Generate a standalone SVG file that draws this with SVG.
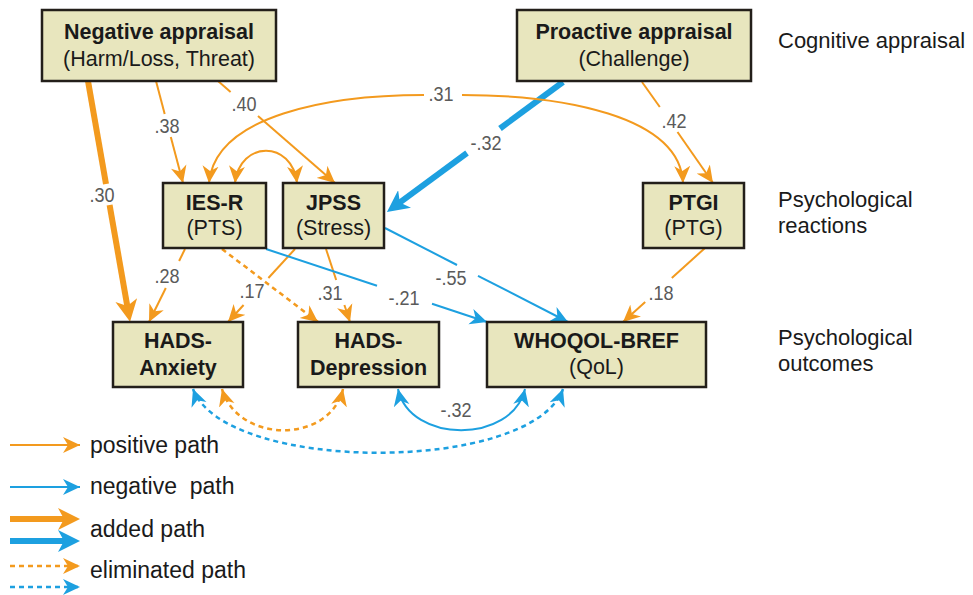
<svg xmlns="http://www.w3.org/2000/svg" width="973" height="595" viewBox="0 0 973 595">
<style>
  .box { fill: #E8E6BE; stroke: #231F1A; stroke-width: 2.5; }
  .nt { font-family: "Liberation Sans", Arial, sans-serif; font-size: 21.5px; fill: #1a1a1a; text-anchor: middle; }
  .b { font-weight: bold; }
  .side { font-family: "Liberation Sans", Arial, sans-serif; font-size: 22px; fill: #1a1a1a; }
  .leg { font-family: "Liberation Sans", Arial, sans-serif; font-size: 23px; fill: #1a1a1a; }
  .num { font-family: "Liberation Sans", Arial, sans-serif; font-size: 21px; fill: #5a5a5a; text-anchor: middle; }
  .o { fill: none; stroke: #F39A1E; stroke-width: 2; }
  .bl { fill: none; stroke: #1DA0E0; stroke-width: 2; }
  .thick { stroke-width: 6; }
  .dash { stroke-width: 2.5; stroke-dasharray: 5 4; }
</style>
<defs>
  <marker id="ao" markerUnits="userSpaceOnUse" viewBox="0 0 17 17" markerWidth="17" markerHeight="17" refX="17" refY="8.5" orient="auto-start-reverse">
    <path d="M0,0.5 L17,8.5 L0,16.5 L5,8.5 Z" fill="#F39A1E"/>
  </marker>
  <marker id="ab" markerUnits="userSpaceOnUse" viewBox="0 0 17 17" markerWidth="17" markerHeight="17" refX="17" refY="8.5" orient="auto-start-reverse">
    <path d="M0,0.5 L17,8.5 L0,16.5 L5,8.5 Z" fill="#1DA0E0"/>
  </marker>
  <marker id="aoT" markerUnits="userSpaceOnUse" viewBox="0 0 22 22" markerWidth="22" markerHeight="22" refX="13" refY="11" orient="auto">
    <path d="M0,0 L22,11 L0,22 L6,11 Z" fill="#F39A1E"/>
  </marker>
  <marker id="abT" markerUnits="userSpaceOnUse" viewBox="0 0 22 22" markerWidth="22" markerHeight="22" refX="13" refY="11" orient="auto">
    <path d="M0,0 L22,11 L0,22 L6,11 Z" fill="#1DA0E0"/>
  </marker>
</defs>
<rect width="973" height="595" fill="#ffffff"/>

<g id="connectors">
  <!-- Negative -> HADS-Anxiety (added, .30) -->
  <path class="o thick" d="M88,81 L106,184"/>
  <path class="o thick" d="M109.6,205 L128.5,313" marker-end="url(#aoT)"/>
  <!-- Negative -> IES-R (.38) -->
  <path class="o" d="M156,81 L164.7,114"/>
  <path class="o" d="M170.8,137 L183,183" marker-end="url(#ao)"/>
  <!-- Negative -> JPSS (.40) -->
  <path class="o" d="M218,81 L230.6,92"/>
  <path class="o" d="M258,116 L335,183" marker-end="url(#ao)"/>
  <!-- Proactive -> JPSS (added, -.32) -->
  <path class="bl thick" d="M563,82 L500,128.5"/>
  <path class="bl thick" d="M467,153 L394.2,206.7" marker-end="url(#abT)"/>
  <!-- Proactive -> PTGI (.42) -->
  <path class="o" d="M642,82 L659.8,107"/>
  <path class="o" d="M677.5,132 L713,183" marker-end="url(#ao)"/>
  <!-- IES-R <-> PTGI (.31) -->
  <path class="o" d="M209,183 C215,115 330,95 424,95" marker-start="url(#ao)"/>
  <path class="o" d="M462,95 C560,95 680,115 683,183" marker-end="url(#ao)"/>
  <!-- IES-R <-> JPSS -->
  <path class="o" d="M235,183 C240,140 292,140 297,183" marker-start="url(#ao)" marker-end="url(#ao)"/>
  <!-- IES-R -> HADS-Anxiety (.28) -->
  <path class="o" d="M185,249 L179.1,261"/>
  <path class="o" d="M165.8,288 L149,322" marker-end="url(#ao)"/>
  <!-- JPSS -> HADS-Anxiety (.17) -->
  <path class="o" d="M295,249 L268.4,278"/>
  <path class="o" d="M243.6,305 L228,322" marker-end="url(#ao)"/>
  <!-- IES-R -> HADS-Depression (eliminated) -->
  <path class="o dash" d="M222,249 L318,322" marker-end="url(#ao)"/>
  <!-- JPSS -> HADS-Depression (.31) -->
  <path class="o" d="M326,249 L336.2,280"/>
  <path class="o" d="M344.4,305 L350,322" marker-end="url(#ao)"/>
  <!-- IES-R -> WHOQOL (-.21) -->
  <path class="bl" d="M266,249 L377,285.7"/>
  <path class="bl" d="M432,303.8 L487,322" marker-end="url(#ab)"/>
  <!-- JPSS -> WHOQOL (-.55) -->
  <path class="bl" d="M385,228 L457,265"/>
  <path class="bl" d="M478,275.8 L568,322" marker-end="url(#ab)"/>
  <!-- PTGI -> WHOQOL (.18) -->
  <path class="o" d="M705,248 L671.8,278"/>
  <path class="o" d="M645.2,302 L623,322" marker-end="url(#ao)"/>
  <!-- HADS-Depression <-> WHOQOL (-.32) -->
  <path class="bl" d="M398,389 C410,444 512,444 525,389" marker-start="url(#ab)" marker-end="url(#ab)"/>
  <!-- HADS-Anxiety <-> HADS-Depression (eliminated) -->
  <path class="o dash" d="M222,389 C238,444 330,444 343,389" marker-start="url(#ao)" marker-end="url(#ao)"/>
  <!-- HADS-Anxiety <-> WHOQOL (eliminated) -->
  <path class="bl dash" d="M193,389 C225,474 532,474 563,389" marker-start="url(#ab)" marker-end="url(#ab)"/>
</g>

<g id="path-labels">
  <text class="num" transform="translate(167,133) scale(0.86,1)">.38</text>
  <text class="num" transform="translate(244,111) scale(0.86,1)">.40</text>
  <text class="num" transform="translate(102,202) scale(0.86,1)">.30</text>
  <text class="num" transform="translate(441,101) scale(0.86,1)">.31</text>
  <text class="num" transform="translate(486,150) scale(0.86,1)">-.32</text>
  <text class="num" transform="translate(674,128) scale(0.86,1)">.42</text>
  <text class="num" transform="translate(167,283) scale(0.86,1)">.28</text>
  <text class="num" transform="translate(252,298) scale(0.86,1)">.17</text>
  <text class="num" transform="translate(330,300) scale(0.86,1)">.31</text>
  <text class="num" transform="translate(404,305) scale(0.86,1)">-.21</text>
  <text class="num" transform="translate(451,285) scale(0.86,1)">-.55</text>
  <text class="num" transform="translate(661,300) scale(0.86,1)">.18</text>
  <text class="num" transform="translate(456,417) scale(0.86,1)">-.32</text>
</g>

<g id="negative-appraisal">
  <rect class="box" x="42" y="10" width="234" height="71"/>
  <text class="nt b" x="159" y="39">Negative appraisal</text>
  <text class="nt" x="159" y="66">(Harm/Loss, Threat)</text>
</g>
<g id="proactive-appraisal">
  <rect class="box" x="517" y="10" width="234" height="71"/>
  <text class="nt b" x="634" y="39">Proactive appraisal</text>
  <text class="nt" x="634" y="66">(Challenge)</text>
</g>
<g id="ies-r">
  <rect class="box" x="163" y="183" width="103" height="65"/>
  <text class="nt b" x="214.5" y="210">IES-R</text>
  <text class="nt" x="214.5" y="235">(PTS)</text>
</g>
<g id="jpss">
  <rect class="box" x="283" y="183" width="101" height="65"/>
  <text class="nt b" x="333.5" y="210">JPSS</text>
  <text class="nt" x="333.5" y="235">(Stress)</text>
</g>
<g id="ptgi">
  <rect class="box" x="643" y="183" width="101" height="65"/>
  <text class="nt b" x="693.5" y="210">PTGI</text>
  <text class="nt" x="693.5" y="235">(PTG)</text>
</g>
<g id="hads-anxiety">
  <rect class="box" x="113" y="322" width="130" height="65"/>
  <text class="nt b" x="178" y="348">HADS-</text>
  <text class="nt b" x="178" y="375">Anxiety</text>
</g>
<g id="hads-depression">
  <rect class="box" x="298" y="322" width="141" height="65"/>
  <text class="nt b" x="368.5" y="348">HADS-</text>
  <text class="nt b" x="368.5" y="375">Depression</text>
</g>
<g id="whoqol-bref">
  <rect class="box" x="487" y="322" width="219" height="65"/>
  <text class="nt b" x="596.5" y="348">WHOQOL-BREF</text>
  <text class="nt" x="596.5" y="374">(QoL)</text>
</g>

<g id="level-labels">
  <text class="side" x="778" y="48">Cognitive appraisal</text>
  <text class="side" x="778" y="207">Psychological</text>
  <text class="side" x="778" y="233">reactions</text>
  <text class="side" x="778" y="345">Psychological</text>
  <text class="side" x="778" y="371">outcomes</text>
</g>

<g id="legend">
  <path class="o" d="M10,445 L80,445" marker-end="url(#ao)"/>
  <path class="bl" d="M10,487 L80,487" marker-end="url(#ab)"/>
  <path class="o thick" d="M10,519 L71,519" marker-end="url(#aoT)"/>
  <path class="bl thick" d="M10,541 L71,541" marker-end="url(#abT)"/>
  <path class="o dash" d="M10,566 L80,566" marker-end="url(#ao)"/>
  <path class="bl dash" d="M10,587 L80,587" marker-end="url(#ab)"/>
  <text class="leg" x="90" y="453">positive path</text>
  <text class="leg" x="90" y="494" xml:space="preserve">negative  path</text>
  <text class="leg" x="90" y="537">added path</text>
  <text class="leg" x="90" y="578">eliminated path</text>
</g>
</svg>
